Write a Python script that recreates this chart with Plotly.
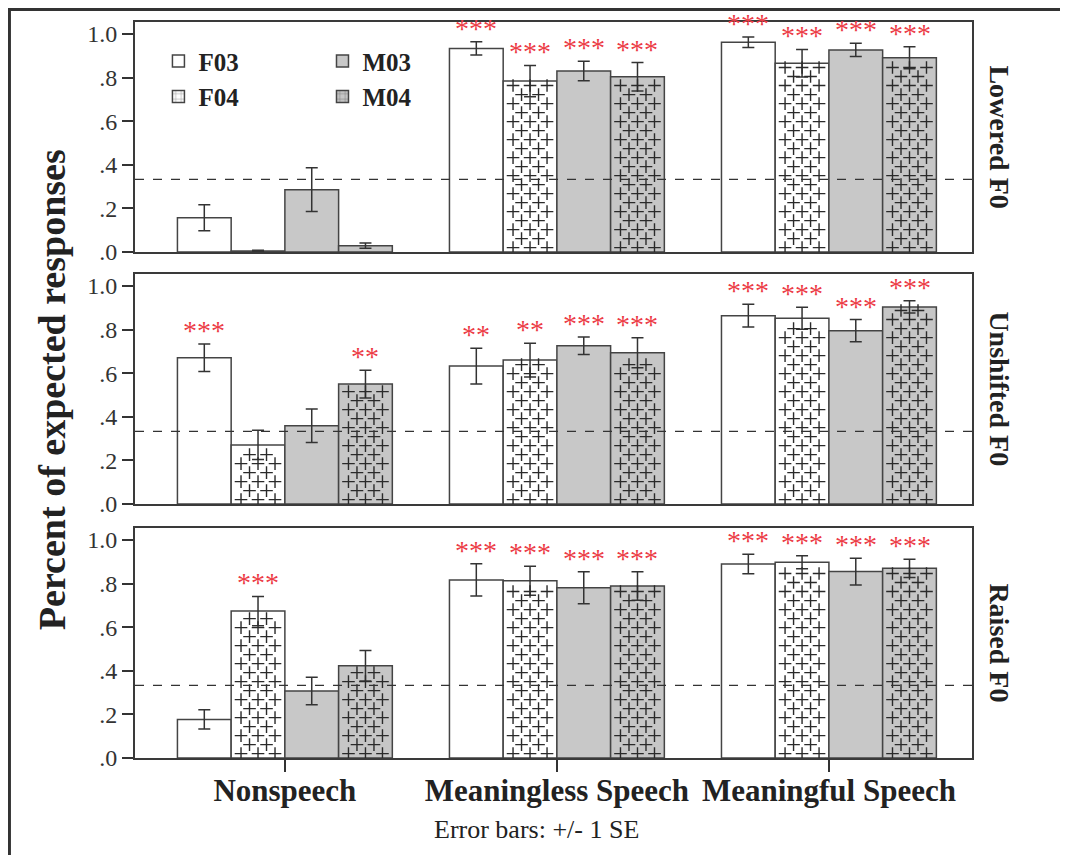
import plotly.graph_objects as go

# ---------------- data ----------------
categories = ["Nonspeech", "Meaningless Speech", "Meaningful Speech"]
series = ["F03", "F04", "M03", "M04"]
panel_labels = ["Lowered F0", "Unshifted F0", "Raised F0"]
y_tick_vals = [0.0, 0.2, 0.4, 0.6, 0.8, 1.0]
y_tick_text = [".0", ".2", ".4", ".6", ".8", "1.0"]
chance_level = 1 / 3

# rows: F03, F04, M03, M04 ; columns: categories
lowered_means = [[0.157, 0.934, 0.962],
                 [0.005, 0.784, 0.866],
                 [0.286, 0.830, 0.927],
                 [0.029, 0.804, 0.891]]
lowered_se = [[0.060, 0.030, 0.024],
              [0.003, 0.072, 0.063],
              [0.100, 0.045, 0.030],
              [0.012, 0.065, 0.050]]
lowered_sig = [["", "***", "***"],
               ["", "***", "***"],
               ["", "***", "***"],
               ["", "***", "***"]]

unshifted_means = [[0.671, 0.633, 0.864],
                   [0.271, 0.660, 0.852],
                   [0.359, 0.726, 0.795],
                   [0.550, 0.694, 0.904]]
unshifted_se = [[0.063, 0.082, 0.052],
                [0.067, 0.077, 0.050],
                [0.077, 0.040, 0.051],
                [0.064, 0.069, 0.028]]
unshifted_sig = [["***", "**", "***"],
                 ["", "**", "***"],
                 ["", "***", "***"],
                 ["**", "***", "***"]]

raised_means = [[0.177, 0.817, 0.890],
                [0.674, 0.813, 0.898],
                [0.307, 0.781, 0.855],
                [0.423, 0.789, 0.870]]
raised_se = [[0.044, 0.074, 0.045],
             [0.067, 0.067, 0.030],
             [0.063, 0.073, 0.061],
             [0.070, 0.065, 0.042]]
raised_sig = [["", "***", "***"],
              ["***", "***", "***"],
              ["", "***", "***"],
              ["", "***", "***"]]

panels = [(lowered_means, lowered_se, lowered_sig),
          (unshifted_means, unshifted_se, unshifted_sig),
          (raised_means, raised_se, raised_sig)]

# ---------------- style ----------------
FONT = "Liberation Serif, Times New Roman, serif"
DARK = "#333333"
EDGE = "#444444"
FILL = {"F03": "#ffffff", "F04": "#ffffff", "M03": "#c8c8c8", "M04": "#c6c6c6"}
PATTERNED = {"F04", "M04"}
STAR_COLOR = "#ec3b45"
BARGAP = 0.21
XRANGE = [-0.551, 2.526]
YRANGE = [0, 1.055]
DOMAINS = [[0.6875, 1.0], [0.3451, 0.6576], [0.0, 0.3125]]

n = len(series)
bw = (1 - BARGAP) / n
xs = list(range(len(categories)))

# lattice of little "+" marks used as the fill texture of patterned bars
COL_STEP = 0.0625
ROW_STEP = 0.0413
ROW_START = 0.02
STAR_PAD = 0.062

fig = go.Figure()
annotations = []
shapes = []

for p, (means, ses, sigs) in enumerate(panels):
    xa = "x" if p == 0 else f"x{p + 1}"
    ya = "y" if p == 0 else f"y{p + 1}"
    for k, s in enumerate(series):
        fig.add_trace(go.Bar(
            x=xs, y=means[k], name=s, showlegend=False,
            marker=dict(color=FILL[s], line=dict(color=EDGE, width=1.5)),
            error_y=dict(type="data", array=ses[k], color=DARK, thickness=1.5, width=6),
            xaxis=xa, yaxis=ya, hoverinfo="skip"))
        offset = -(1 - BARGAP) / 2 + bw * (k + 0.5)
        if s in PATTERNED:
            px_, py_ = [], []
            for ci, c in enumerate(xs):
                top = means[k][ci]
                r = 0
                y = ROW_START
                while y <= top - 0.015:
                    if r % 2 == 0:
                        cols = [-COL_STEP, 0.0, COL_STEP]
                    else:
                        cols = [-COL_STEP / 2, COL_STEP / 2]
                    for dx in cols:
                        px_.append(c + offset + dx)
                        py_.append(y)
                    r += 1
                    y = ROW_START + r * ROW_STEP
            fig.add_trace(go.Scatter(
                x=px_, y=py_, mode="markers", showlegend=False, hoverinfo="skip",
                marker=dict(symbol="cross-thin", size=9,
                            line=dict(color="#2a2a2a", width=1.4)),
                xaxis=xa, yaxis=ya))
        for ci, c in enumerate(xs):
            if sigs[k][ci]:
                annotations.append(dict(
                    x=c + offset, y=means[k][ci] + ses[k][ci] + STAR_PAD,
                    xref=xa, yref=ya, text=sigs[k][ci], showarrow=False,
                    xanchor="center", yanchor="middle",
                    font=dict(family=FONT, size=28, color=STAR_COLOR)))
    # chance line
    shapes.append(dict(type="line", xref=f"{xa} domain", yref=ya,
                       x0=0, x1=1, y0=chance_level, y1=chance_level,
                       line=dict(color=DARK, width=1.3, dash="dash"), layer="above"))
    # panel label on the right
    annotations.append(dict(x=1.033, y=sum(DOMAINS[p]) / 2, xref="paper", yref="paper",
                            text=panel_labels[p], textangle=90, showarrow=False,
                            xanchor="center", yanchor="middle",
                            font=dict(family=FONT, size=28, color="#222", weight="bold")))

# legend-only traces (hidden subplot)
for k, s in enumerate(series):
    pat = dict(shape="+", size=7, solidity=0.18, fgcolor="#2a2a2a") if s in PATTERNED else dict(shape="")
    fig.add_trace(go.Bar(
        x=[None], y=[None], name=s, xaxis="x4", yaxis="y4",
        legend="legend" if s.startswith("F") else "legend2",
        marker=dict(color=FILL[s], line=dict(color=EDGE, width=1.5), pattern=pat)))

axis_common_x = dict(range=XRANGE, showgrid=False, zeroline=False, showline=True,
                     mirror=True, linecolor="#3a3a3a", linewidth=2,
                     tickvals=xs, ticktext=categories)
axis_common_y = dict(range=YRANGE, showgrid=False, zeroline=False, showline=True,
                     mirror=True, linecolor="#3a3a3a", linewidth=2,
                     tickvals=y_tick_vals, ticktext=y_tick_text, ticks="outside",
                     ticklen=11, tickwidth=1.5, tickcolor=DARK,
                     tickfont=dict(family=FONT, size=24, color="#333"))

legend_font = dict(family=FONT, size=25, color="#222", weight="bold")
layout = dict(
    width=1060, height=847,
    margin=dict(l=127, r=96, t=14, b=97),
    paper_bgcolor="white", plot_bgcolor="white",
    barmode="group", bargap=BARGAP, bargroupgap=0,
    showlegend=True,
    legend=dict(x=0.028, y=0.978, xanchor="left", yanchor="top",
                bgcolor="rgba(0,0,0,0)", tracegroupgap=0, font=legend_font),
    legend2=dict(x=0.224, y=0.978, xanchor="left", yanchor="top",
                 bgcolor="rgba(0,0,0,0)", tracegroupgap=0, font=legend_font),
    xaxis4=dict(domain=[0, 0.001], visible=False, anchor="y4"),
    yaxis4=dict(domain=[0, 0.001], visible=False, anchor="x4"),
)
for p in range(3):
    xk = "xaxis" if p == 0 else f"xaxis{p + 1}"
    yk = "yaxis" if p == 0 else f"yaxis{p + 1}"
    ya = "y" if p == 0 else f"y{p + 1}"
    xa = "x" if p == 0 else f"x{p + 1}"
    xd = dict(axis_common_x, anchor=ya, domain=[0, 1])
    if p == 2:
        xd.update(ticks="outside", ticklen=12, tickwidth=1.5, tickcolor=DARK,
                  showticklabels=True, ticklabelstandoff=-8,
                  tickfont=dict(family=FONT, size=31, color="#222", weight="bold"))
    else:
        xd.update(ticks="", showticklabels=False)
    layout[xk] = xd
    layout[yk] = dict(axis_common_y, anchor=xa, domain=DOMAINS[p])

annotations.append(dict(x=-0.099, y=0.5, xref="paper", yref="paper",
                        text="Percent of expected responses", textangle=-90,
                        showarrow=False, xanchor="center", yanchor="middle",
                        font=dict(family=FONT, size=38, color="#222", weight="bold")))
annotations.append(dict(x=0.48, y=-0.0965, xref="paper", yref="paper",
                        text="Error bars: +/- 1 SE", showarrow=False,
                        xanchor="center", yanchor="middle",
                        font=dict(family=FONT, size=26, color="#222")))

# outer frame (top and left edges)
shapes.append(dict(type="line", xref="paper", yref="paper", x0=-0.17, x1=1.13,
                   y0=1.017, y1=1.017, line=dict(color=DARK, width=3)))
shapes.append(dict(type="line", xref="paper", yref="paper", x0=-0.150, x1=-0.150,
                   y0=-0.14, y1=1.017, line=dict(color=DARK, width=3)))

layout["annotations"] = annotations
layout["shapes"] = shapes
fig.update_layout(**layout)

fig.write_html("out.html")
